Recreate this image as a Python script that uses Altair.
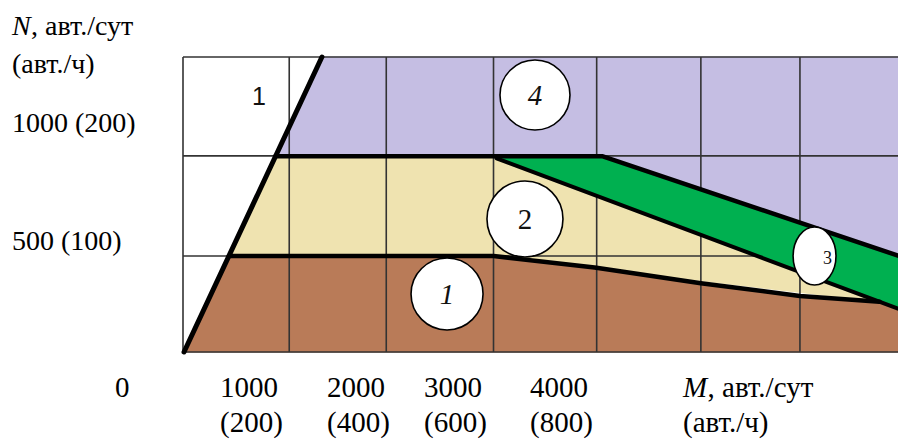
import altair as alt
import pandas as pd

# Zone outlines in grid-cell units (x: M cells, y: N cells)
lav_x = [1.36, 7.0, 7.0, 4.11, 0.905]
lav_y = [3.0, 3.0, 0.98, 1.99, 1.99]
beige_x = [0.905, 3.07, 6.82, 3.04, 0.449]
beige_y = [1.99, 1.97, 0.51, 0.976, 0.976]
brown_x = [0.01, 0.449, 3.04, 4.03, 5.07, 6.04, 6.82, 7.0, 7.0]
brown_y = [0.0, 0.976, 0.976, 0.86, 0.70, 0.57, 0.51, 0.44, 0.0]
green_x = [3.07, 4.11, 7.0, 7.0, 6.82]
green_y = [1.97, 1.99, 0.98, 0.44, 0.51]

# Zone boundaries
diag_x, diag_y = [0.01, 1.36], [0.0, 3.0]
upper_x, upper_y = [0.905, 4.11, 7.0], [1.99, 1.99, 0.98]
lower_x = [0.449, 3.04, 4.03, 5.07, 6.04, 6.82]
lower_y = [0.976, 0.976, 0.86, 0.70, 0.57, 0.51]
glow_x, glow_y = [3.07, 7.0], [1.97, 0.44]

# Grid
grid_x = [0.0, 1.04, 1.99, 3.04, 4.05, 5.07, 6.04]
grid_y = [0.0, 0.976, 1.995, 3.0]

# Zone markers
zone_text = ["4", "2", "1", "3"]
zone_x = [3.446, 3.348, 2.585, 6.183]
zone_y = [2.614, 1.353, 0.590, 0.976]

# Axis captions
y_caption = ["(авт./ч)", "1000 (200)", "500 (100)"]
y_caption_y = [2.837, 2.237, 1.037]
x_top = ["0", "1000", "2000", "3000", "4000"]
x_top_x = [-0.666, 0.362, 1.41, 2.36, 3.397]
x_bot = ["(200)", "(400)", "(600)", "(800)"]
x_bot_x = [0.362, 1.41, 2.36, 3.397]

XS = alt.Scale(domain=[0, 7], nice=False, zero=False)
YS = alt.Scale(domain=[0, 3], nice=False, zero=False)


def X(f="x"):
    return alt.X(f"{f}:Q", scale=XS, axis=None)


def Y(f="y"):
    return alt.Y(f"{f}:Q", scale=YS, axis=None)


def polygon(xs, ys, color):
    df = pd.DataFrame({"x": xs, "y": ys, "i": range(len(xs))})
    return alt.Chart(df).mark_line(
        fill=color, stroke=color, strokeWidth=1, interpolate="linear-closed"
    ).encode(x=X(), y=Y(), order="i:Q")


def polyline(xs, ys, width=4.5):
    df = pd.DataFrame({"x": xs, "y": ys, "i": range(len(xs))})
    return alt.Chart(df).mark_line(
        color="black", strokeWidth=width, strokeJoin="round", strokeCap="round"
    ).encode(x=X(), y=Y(), order="i:Q")


layers = [
    polygon(lav_x, lav_y, "#c5bee3"),
    polygon(beige_x, beige_y, "#efe3b0"),
    polygon(brown_x, brown_y, "#b97b58"),
]

vgrid = pd.DataFrame({"x": grid_x, "y": 0.0, "y2": 3.0})
hgrid = pd.DataFrame({"y": grid_y, "x": 0.0, "x2": 7.0})
layers.append(
    alt.Chart(vgrid).mark_rule(color="#333333", strokeWidth=1.6).encode(
        x=X(), y=Y(), y2="y2:Q"
    )
)
layers.append(
    alt.Chart(hgrid).mark_rule(color="#333333", strokeWidth=1.6).encode(
        y=Y(), x=X(), x2="x2:Q"
    )
)

layers.append(polygon(green_x, green_y, "#00b050"))
layers += [
    polyline(diag_x, diag_y, 5),
    polyline(upper_x, upper_y),
    polyline(lower_x, lower_y),
    polyline(glow_x, glow_y, 4),
]

# zone markers: white discs (an ellipse for zone 3)
shapes = ["circle", "circle", "circle", "M -0.74 0 A 0.74 1 0 1 1 0.74 0 A 0.74 1 0 1 1 -0.74 0 Z"]
sizes = [4900, 5776, 5184, 3364]
for k in range(4):
    d = pd.DataFrame({"x": [zone_x[k]], "y": [zone_y[k]]})
    layers.append(
        alt.Chart(d).mark_point(
            shape=shapes[k], size=sizes[k], filled=True, fill="white",
            stroke="black", strokeWidth=1.6, opacity=1
        ).encode(x=X(), y=Y())
    )

zt = pd.DataFrame({"x": zone_x[:3], "y": zone_y[:3], "t": zone_text[:3],
                   "st": ["italic", "normal", "italic"]})
for st in ["italic", "normal"]:
    layers.append(
        alt.Chart(zt[zt.st == st]).mark_text(
            font="Liberation Serif", fontSize=29, fontStyle=st, color="#111",
            align="center", baseline="middle", dy=1
        ).encode(x=X(), y=Y(), text="t:N")
    )
z3 = pd.DataFrame({"x": [zone_x[3]], "y": [zone_y[3]], "t": [zone_text[3]]})
layers.append(
    alt.Chart(z3).mark_text(
        font="Liberation Serif", fontSize=18, color="#111",
        align="center", baseline="middle", dx=13, dy=3
    ).encode(x=X(), y=Y(), text="t:N")
)

# line number inside the free-flow zone
one = pd.DataFrame({"x": [0.744], "y": [2.593], "t": ["1"]})
layers.append(
    alt.Chart(one).mark_text(
        font="Liberation Sans", fontSize=25, color="#111",
        align="center", baseline="middle"
    ).encode(x=X(), y=Y(), text="t:N")
)


def caption(df, size, style="normal"):
    return alt.Chart(df).mark_text(
        font="Liberation Serif", fontSize=size, fontStyle=style, color="black",
        align="left", baseline="alphabetic"
    ).encode(x=X(), y=Y(), text="t:N")


layers.append(caption(pd.DataFrame({"x": [-1.674], "y": [3.224], "t": ["N"]}), 28, "italic"))
layers.append(caption(pd.DataFrame({"x": [-1.487], "y": [3.224], "t": [", авт./сут"]}), 28))
layers.append(caption(pd.DataFrame({"x": -1.674, "y": y_caption_y, "t": y_caption}), 28))
layers.append(caption(pd.DataFrame({"x": x_top_x, "y": -0.458, "t": x_top}), 29))
layers.append(caption(pd.DataFrame({"x": x_bot_x, "y": -0.814, "t": x_bot}), 29))
layers.append(caption(pd.DataFrame({"x": [4.895], "y": [-0.458], "t": ["M"]}), 29, "italic"))
layers.append(caption(pd.DataFrame({"x": [5.135], "y": [-0.458], "t": [", авт./сут"]}), 29))
layers.append(caption(pd.DataFrame({"x": [4.895], "y": [-0.814], "t": ["(авт./ч)"]}), 29))

chart = alt.layer(*layers).properties(
    width=715, height=295,
    padding={"left": 183, "top": 57, "right": 0, "bottom": 90},
    autosize=alt.AutoSizeParams(type="none"),
    background="white",
).configure_view(stroke=None)

chart.save("out.html", embed_options={"renderer": "svg", "actions": False})
